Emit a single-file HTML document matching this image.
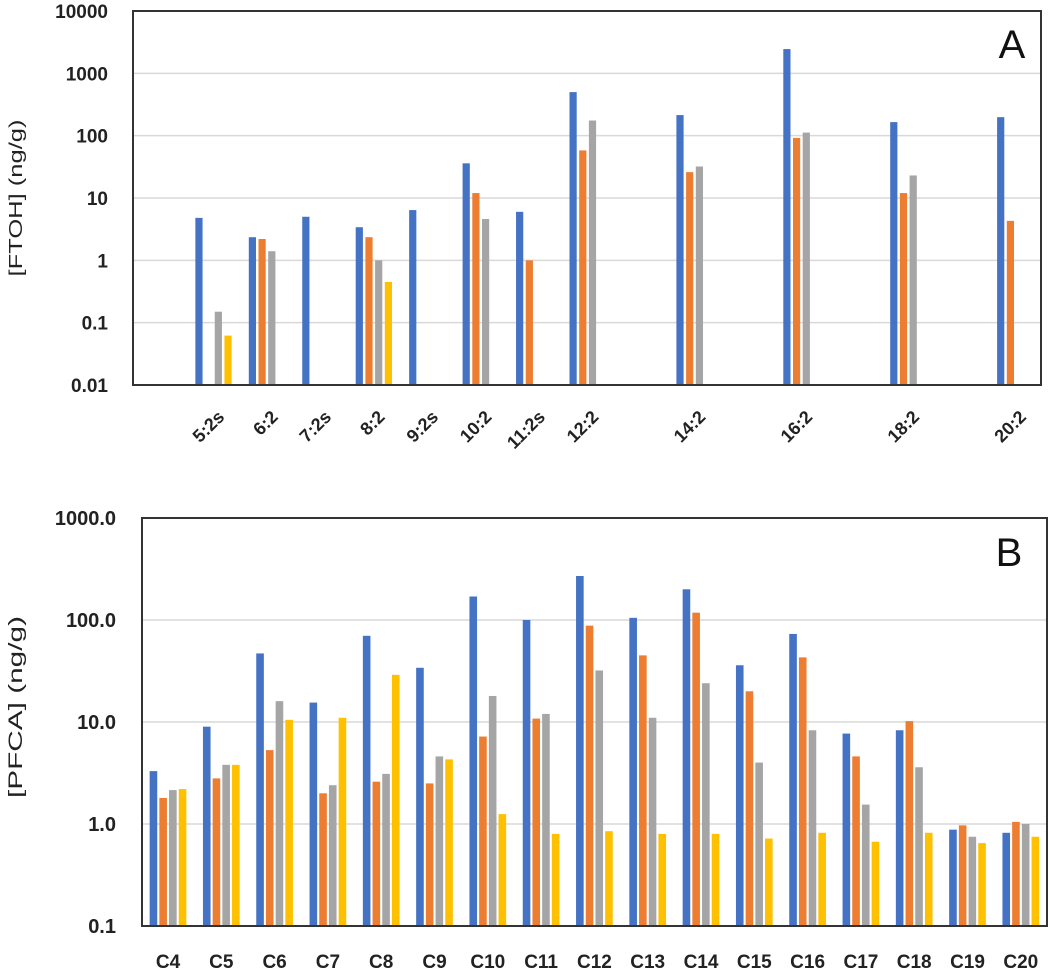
<!DOCTYPE html>
<html><head><meta charset="utf-8"><style>
body{margin:0;background:#fff;}
svg{display:block;font-family:"Liberation Sans",sans-serif;}
</style></head><body>
<svg id="c" width="1050" height="972"></svg>
<script>
const aCategories=["5:2s","6:2","7:2s","8:2","9:2s","10:2","11:2s","12:2","14:2","16:2","18:2","20:2"];
const aPositions=[5,6,7,8,9,10,11,12,14,16,18,20];
const aBlue=[4.8,2.35,5.0,3.4,6.4,36,6.0,500,214,2450,165,198];
const aOrange=[null,2.2,null,2.35,null,12,1.0,58,26,92,12,4.3];
const aGray=[0.15,1.4,null,1.0,null,4.6,null,175,32,112,23,null];
const aYellow=[0.062,null,null,0.45,null,null,null,null,null,null,null,null];
const aTicks=["0.01","0.1","1","10","100","1000","10000"];
const bCategories=["C4","C5","C6","C7","C8","C9","C10","C11","C12","C13","C14","C15","C16","C17","C18","C19","C20"];
const bBlue=[3.3,9,47,15.5,70,34,170,100,270,105,200,36,73,7.7,8.3,0.88,0.82];
const bOrange=[1.8,2.8,5.3,2.0,2.6,2.5,7.2,10.8,88,45,118,20,43,4.6,10.2,0.97,1.05];
const bGray=[2.15,3.8,16,2.4,3.1,4.6,18,12,32,11,24,4.0,8.3,1.55,3.6,0.75,1.0];
const bYellow=[2.2,3.8,10.5,11,29,4.3,1.25,0.8,0.85,0.8,0.8,0.72,0.82,0.67,0.82,0.65,0.75];
const bTicks=["0.1","1.0","10.0","100.0","1000.0"];
const colors=["#4472C4","#ED7D31","#A5A5A5","#FFC000"];
const names=["blue","orange","gray","yellow"];
const svg=document.getElementById('c');
const NS="http://www.w3.org/2000/svg";
function mk(t,a,p){const e=document.createElementNS(NS,t);for(const k in a)e.setAttribute(k,a[k]);(p||svg).appendChild(e);return e;}

// Panel A
const A={l:133,r:1041,t:11,b:385,min:-2,max:4};
function ayA(v){return A.b-(Math.log10(v)-A.min)/(A.max-A.min)*(A.b-A.t);}
function axA(p){return 213.5+(p-5)*53.45;}
const gA=mk('g',{});


aTicks.forEach(t=>{const y=ayA(parseFloat(t));
 if(y>A.t+1&&y<A.b-1){const l=mk('line',{x1:A.l,x2:A.r,y1:y,y2:y,stroke:'#d9d9d9','stroke-width':1.5},gA);}
 const tx=mk('text',{x:108,y:y+7,'text-anchor':'end','font-size':19,'font-weight':'bold',fill:'#222'},gA);tx.textContent=t;
 });
[aBlue,aOrange,aGray,aYellow].forEach((s,si)=>{s.forEach((v,i)=>{if(v==null)return;
 const cx=axA(aPositions[i])+(si-1.5)*9.7;const y=ayA(v);
 const r=mk('rect',{x:cx-3.6,y:y,width:7.2,height:A.b-y,fill:colors[si]},gA);
 });});
aCategories.forEach((c,i)=>{const x=axA(aPositions[i])+12,y=418;
 const t=mk('text',{x:x,y:y,'text-anchor':'end','font-size':18,'font-weight':'bold',fill:'#222',transform:`rotate(-45 ${x} ${y})`},gA);t.textContent=c;
 });
let fr=mk('rect',{x:A.l,y:A.t,width:A.r-A.l,height:A.b-A.t,fill:'none',stroke:'#333','stroke-width':2},gA);

let tt=mk('text',{x:22,y:198,'text-anchor':'middle','font-size':18,fill:'#222',textLength:157,lengthAdjust:'spacingAndGlyphs',transform:'rotate(-90 22 198)'},gA);tt.textContent='[FTOH] (ng/g)';

tt=mk('text',{x:1012,y:58,'text-anchor':'middle','font-size':40,fill:'#111'},gA);tt.textContent='A';


// Panel B
const B={l:142,r:1047,t:518,b:926,min:-1,max:3};
function ayB(v){return B.b-(Math.log10(v)-B.min)/(B.max-B.min)*(B.b-B.t);}
function axB(i){return 168+i*53.3;}
const gB=mk('g',{});


bTicks.forEach(t=>{const y=ayB(parseFloat(t));
 if(y>B.t+1&&y<B.b-1){const l=mk('line',{x1:B.l,x2:B.r,y1:y,y2:y,stroke:'#d9d9d9','stroke-width':1.5},gB);}
 const tx=mk('text',{x:116,y:y+7,'text-anchor':'end','font-size':20,'font-weight':'bold',fill:'#222'},gB);tx.textContent=t;
 });
[bBlue,bOrange,bGray,bYellow].forEach((s,si)=>{s.forEach((v,i)=>{if(v==null)return;
 const cx=axB(i)+(si-1.5)*9.7;const y=ayB(v);
 const r=mk('rect',{x:cx-3.8,y:y,width:7.6,height:B.b-y,fill:colors[si]},gB);
 });});
bCategories.forEach((c,i)=>{const t=mk('text',{x:axB(i),y:968,'text-anchor':'middle','font-size':19,'font-weight':'bold',fill:'#222'},gB);t.textContent=c;
 });
fr=mk('rect',{x:B.l,y:B.t,width:B.r-B.l,height:B.b-B.t,fill:'none',stroke:'#333','stroke-width':2},gB);

tt=mk('text',{x:22,y:707,'text-anchor':'middle','font-size':19,fill:'#222',textLength:182,lengthAdjust:'spacingAndGlyphs',transform:'rotate(-90 22 707)'},gB);tt.textContent='[PFCA] (ng/g)';

tt=mk('text',{x:1009,y:566,'text-anchor':'middle','font-size':40,fill:'#111'},gB);tt.textContent='B';

</script>
</body></html>
